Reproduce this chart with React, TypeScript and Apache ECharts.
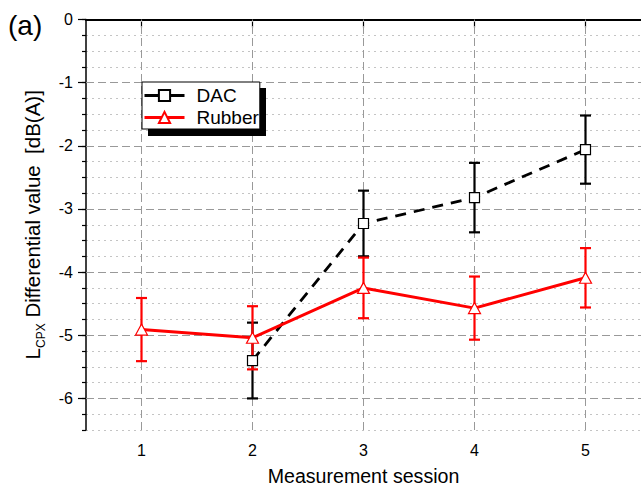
import React, { useEffect, useRef } from 'react';
import * as echarts from 'echarts';

const sessions = ['1', '2', '3', '4', '5'];
const dacMean: (number | null)[] = [null, -5.40, -3.23, -2.82, -2.06];
const dacErr: (number | null)[] = [null, 0.60, 0.52, 0.55, 0.54];
const rubberMean: number[] = [-4.91, -5.04, -4.25, -4.57, -4.09];
const rubberErr: number[] = [0.50, 0.50, 0.48, 0.50, 0.47];
const yMajorTicks = [0, -1, -2, -3, -4, -5, -6];
const yMin = -6.5;
const yMax = 0;

const FONT = '"Liberation Sans", Arial, sans-serif';

function errData(mean: (number | null)[], err: (number | null)[]) {
  const out: number[][] = [];
  mean.forEach((m, i) => {
    if (m == null || err[i] == null) return;
    out.push([i, m - (err[i] as number), m + (err[i] as number)]);
  });
  return out;
}

function errSeries(name: string, mean: (number | null)[], err: (number | null)[], color: string) {
  return {
    type: 'custom',
    name,
    data: errData(mean, err),
    z: 2,
    silent: true,
    encode: { x: 0, y: [1, 2] },
    renderItem: (_params: any, api: any) => {
      const x = api.value(0);
      const lo = api.value(1);
      const hi = api.value(2);
      const p1 = api.coord([x, hi]);
      const p2 = api.coord([x, lo]);
      const w = 5.5;
      const style = { stroke: color, lineWidth: 2.2 };
      return {
        type: 'group',
        children: [
          { type: 'line', shape: { x1: p1[0], y1: p1[1], x2: p2[0], y2: p2[1] }, style },
          { type: 'line', shape: { x1: p1[0] - w, y1: p1[1], x2: p1[0] + w, y2: p1[1] }, style },
          { type: 'line', shape: { x1: p2[0] - w, y1: p2[1], x2: p2[0] + w, y2: p2[1] }, style },
        ],
      };
    },
  };
}

export default function App() {
  const ref = useRef<HTMLDivElement>(null);
  useEffect(() => {
    if (!ref.current) return;
    const chart = echarts.init(ref.current, null, { renderer: 'svg' });
    const option: any = {
      animation: false,
      backgroundColor: '#fff',
      textStyle: { fontFamily: FONT },
      grid: { left: 86, top: 19.5, width: 560, height: 416, containLabel: false },
      legend: {
        data: ['DAC', 'Rubber'],
        orient: 'vertical',
        left: 142,
        top: 82,
        backgroundColor: '#fff',
        borderColor: '#000',
        borderWidth: 1,
        borderRadius: 0,
        padding: [4, 1, 2, 1],
        itemGap: 3,
        itemWidth: 40,
        itemHeight: 14,
        lineStyle: { type: 'solid', width: 3 },
        textStyle: { fontSize: 19, color: '#000', fontFamily: FONT, padding: [0, 0, 0, 7] },
      },
      graphic: [
        { type: 'text', left: 8, top: 11, style: { text: '(a)', fontSize: 28, fill: '#000', fontFamily: FONT } },
        { type: 'rect', z: 3, shape: { x: 148, y: 88, width: 118, height: 48 }, style: { fill: '#000' } },
      ],
      xAxis: [
        {
          type: 'category',
          data: sessions,
          boundaryGap: true,
          position: 'bottom',
          axisLine: { show: true, lineStyle: { color: '#000', width: 1.5 } },
          axisTick: { show: true, alignWithLabel: true, length: 8, lineStyle: { color: '#000', width: 1.2 } },
          axisLabel: { fontSize: 16, color: '#000', margin: 12, fontFamily: FONT },
          splitLine: { show: false },
          name: 'Measurement session',
          nameLocation: 'middle',
          nameGap: 36,
          nameTextStyle: { fontSize: 19.6, color: '#000', fontFamily: FONT },
        },
        {
          type: 'category',
          data: sessions,
          boundaryGap: true,
          position: 'top',
          axisLine: { show: true, lineStyle: { color: '#000', width: 1.8 } },
          axisTick: { show: false },
          axisLabel: { show: false },
          splitLine: { show: false },
        },
      ],
      yAxis: [
        {
          type: 'value',
          min: yMin,
          max: yMax,
          interval: 0.25,
          position: 'left',
          axisLine: { show: true, lineStyle: { color: '#000', width: 1.5 } },
          axisTick: { show: true, length: 4, lineStyle: { color: '#000', width: 1.2 } },
          axisLabel: {
            fontSize: 16,
            color: '#000',
            margin: 13,
            fontFamily: FONT,
            formatter: (v: number) => (Number.isInteger(v) ? String(v) : ''),
          },
          splitLine: {
            show: true,
            lineStyle: { type: [2, 4], color: ['#c4c4c4', '#c4c4c4', 'rgba(0,0,0,0)', '#c4c4c4'], width: 1 },
          },
          name: '{a|L}{b|CPX}{a| Differential value  [dB(A)]}',
          nameLocation: 'middle',
          nameGap: 39,
          nameTextStyle: {
            color: '#000',
            fontFamily: FONT,
            rich: {
              a: { fontSize: 20.5, color: '#000', fontFamily: FONT, lineHeight: 30, verticalAlign: 'middle' },
              b: { fontSize: 12, color: '#000', fontFamily: FONT, lineHeight: 30, verticalAlign: 'bottom' },
            },
          },
        },
        {
          type: 'value',
          min: yMin,
          max: yMax,
          interval: 0.25,
          position: 'left',
          axisLine: { show: false },
          axisTick: { show: true, length: 8, customValues: yMajorTicks, lineStyle: { color: '#000', width: 1.2 } },
          axisLabel: { show: false },
          splitLine: { show: false },
        },
      ],
      series: [
        {
          type: 'line',
          name: 'gridlines',
          data: sessions.map(() => null),
          z: 1,
          silent: true,
          showSymbol: false,
          markLine: {
            z: 1,
            silent: true,
            symbol: 'none',
            label: { show: false },
            lineStyle: { color: '#999', type: [8, 4], width: 1 },
            emphasis: { disabled: true },
            data: [
              ...sessions.map((s) => ({ xAxis: s })),
              ...yMajorTicks.filter((v) => v !== yMax).map((v) => ({ yAxis: v })),
            ],
          },
        },
        errSeries('DAC err', dacMean, dacErr, '#000'),
        {
          type: 'line',
          name: 'DAC',
          data: dacMean,
          z: 3,
          symbol: 'rect',
          symbolSize: 10,
          showAllSymbol: true,
          lineStyle: { color: '#000', width: 2.8, type: [11, 8] },
          itemStyle: { color: '#fff', borderColor: '#000', borderWidth: 1.2 },
        },
        errSeries('Rubber err', rubberMean, rubberErr, '#ff0000'),
        {
          type: 'line',
          name: 'Rubber',
          data: rubberMean,
          z: 3,
          symbol: 'triangle',
          symbolSize: [12, 11],
          showAllSymbol: true,
          lineStyle: { color: '#ff0000', width: 3 },
          itemStyle: { color: '#fff', borderColor: '#ff0000', borderWidth: 1.2 },
        },
      ],
    };
    chart.setOption(option);
    return () => chart.dispose();
  }, []);
  return (
    <div
      ref={ref}
      style={{ position: 'fixed', left: 0, top: 0, width: 641, height: 491, background: '#fff' }}
    />
  );
}
